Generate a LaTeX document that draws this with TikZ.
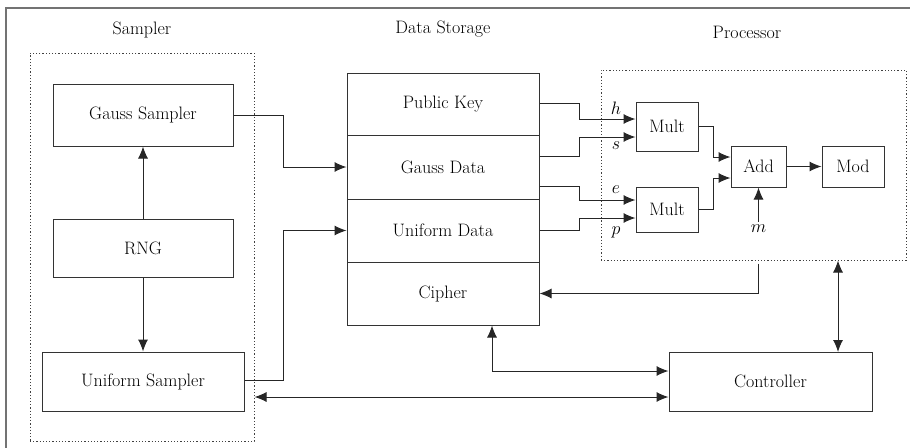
\documentclass[tikz,border=0pt]{standalone}
\usepackage{fix-cm}
\usepackage{fontspec}
\usetikzlibrary{arrows.meta,calc}

\tikzset{
  blk/.style={draw=black!80, line width=1pt, inner sep=0pt, font=\fontsize{18}{22}\selectfont},
  frame/.style={draw=black!75, line width=1pt, dash pattern=on 1.2pt off 2pt},
  lbl/.style={inner sep=0pt, font=\fontsize{18}{22}\selectfont},
  wire/.style={draw=black!85, line width=1pt},
  arr/.style={wire, -{Latex[length=12pt,width=10pt]}},
  barr/.style={wire, {Latex[length=12pt,width=10pt]}-{Latex[length=12pt,width=10pt]}},
}

\begin{document}
\begin{tikzpicture}[x=1pt, y=-1pt]
\useasboundingbox (0,0) rectangle (910,447);

% outer border
\draw[black!55, line width=2pt] (6,460) -- (6,8) -- (920,8);

% group titles
\node[lbl] (tsam) at (142,30) {Sampler};
\node[lbl] (tdat) at (443,29) {Data Storage};
\node[lbl] (tpro) at (747,32) {Processor};

% sampler group
\node[frame, minimum width=224pt, minimum height=388pt] (sf) at (142,247) {};
\node[blk, minimum width=180pt, minimum height=62pt] (gs) at (143,115) {Gauss Sampler};
\node[blk, minimum width=180pt, minimum height=58pt] (rng) at (143,248) {RNG};
\node[blk, minimum width=202pt, minimum height=59pt] (us) at (143,381.5) {Uniform Sampler};

% data storage stack
\node[blk, minimum width=192pt, minimum height=62pt] (pk) at (443,104) {Public Key};
\node[blk, minimum width=192pt, minimum height=64pt] (gd) at (443,167) {Gauss Data};
\node[blk, minimum width=192pt, minimum height=63pt] (ud) at (443,230.5) {Uniform Data};
\node[blk, minimum width=192pt, minimum height=63pt] (ci) at (443,293.5) {Cipher};

% processor group
\node[frame, minimum width=305pt, minimum height=190pt] (pf) at (753.5,165) {};
\node[blk, minimum width=62pt, minimum height=49pt] (m1) at (667,126.5) {Mult};
\node[blk, minimum width=62pt, minimum height=45pt] (m2) at (667,209.5) {Mult};
\node[blk, minimum width=55pt, minimum height=41pt] (add) at (758.5,166.5) {Add};
\node[blk, minimum width=62pt, minimum height=41pt] (mod) at (853,166.5) {Mod};

% controller
\node[blk, minimum width=203pt, minimum height=59pt] (ctrl) at (770.5,381.5) {Controller};

% sampler internals
\draw[arr] (rng.north) -- (gs.south);
\draw[arr] (rng.south) -- (us.south |- us.north);

% samplers to storage
\draw[arr] (gs.east) -- ++(50,0) |- (gd.west);
\draw[arr] (us.east |- 0,380) -- (283,380) |- (ud.west);

% storage to multipliers
\draw[arr] (pk.east |- 0,103) -- (579,103) |- (m1.west |- 0,119);
\draw[arr] (gd.east |- 0,156) -- (579,156) |- (m1.west |- 0,137);
\draw[arr] (gd.east |- 0,186) -- (579,186) |- (m2.west |- 0,200);
\draw[arr] (ud.east |- 0,230) -- (579,230) |- (m2.west |- 0,218);

\node[lbl] (lh) at (616,108) {$h$};
\node[lbl] (ls) at (616,146) {$s$};
\node[lbl] (le) at (616,190) {$e$};
\node[lbl] (lp) at (616,232) {$p$};

% processor datapath
\draw[arr] (m1.east) -- (713,126.5) |- (add.west |- 0,157);
\draw[arr] (m2.east) -- (713,209.5) |- (add.west |- 0,178);
\draw[arr] (add.east) -- (mod.west);
\node[lbl] (lm) at (758.5,229) {$m$};
\draw[arr] (lm.north) ++(0,-3) -- (add.south);

% result back to storage
\draw[arr] (add.south |- pf.south) ++(0,3) |- (ci.east);

% controller links
\coordinate (cup) at (838,352);
\draw[barr] (cup |- pf.south) -- (cup);
\draw[barr] (ci.south -| 492,0) |- (ctrl.west |- 0,371);
\draw[barr] (sf.east |- 0,397) -- (ctrl.west |- 0,397);
\end{tikzpicture}
\end{document}
